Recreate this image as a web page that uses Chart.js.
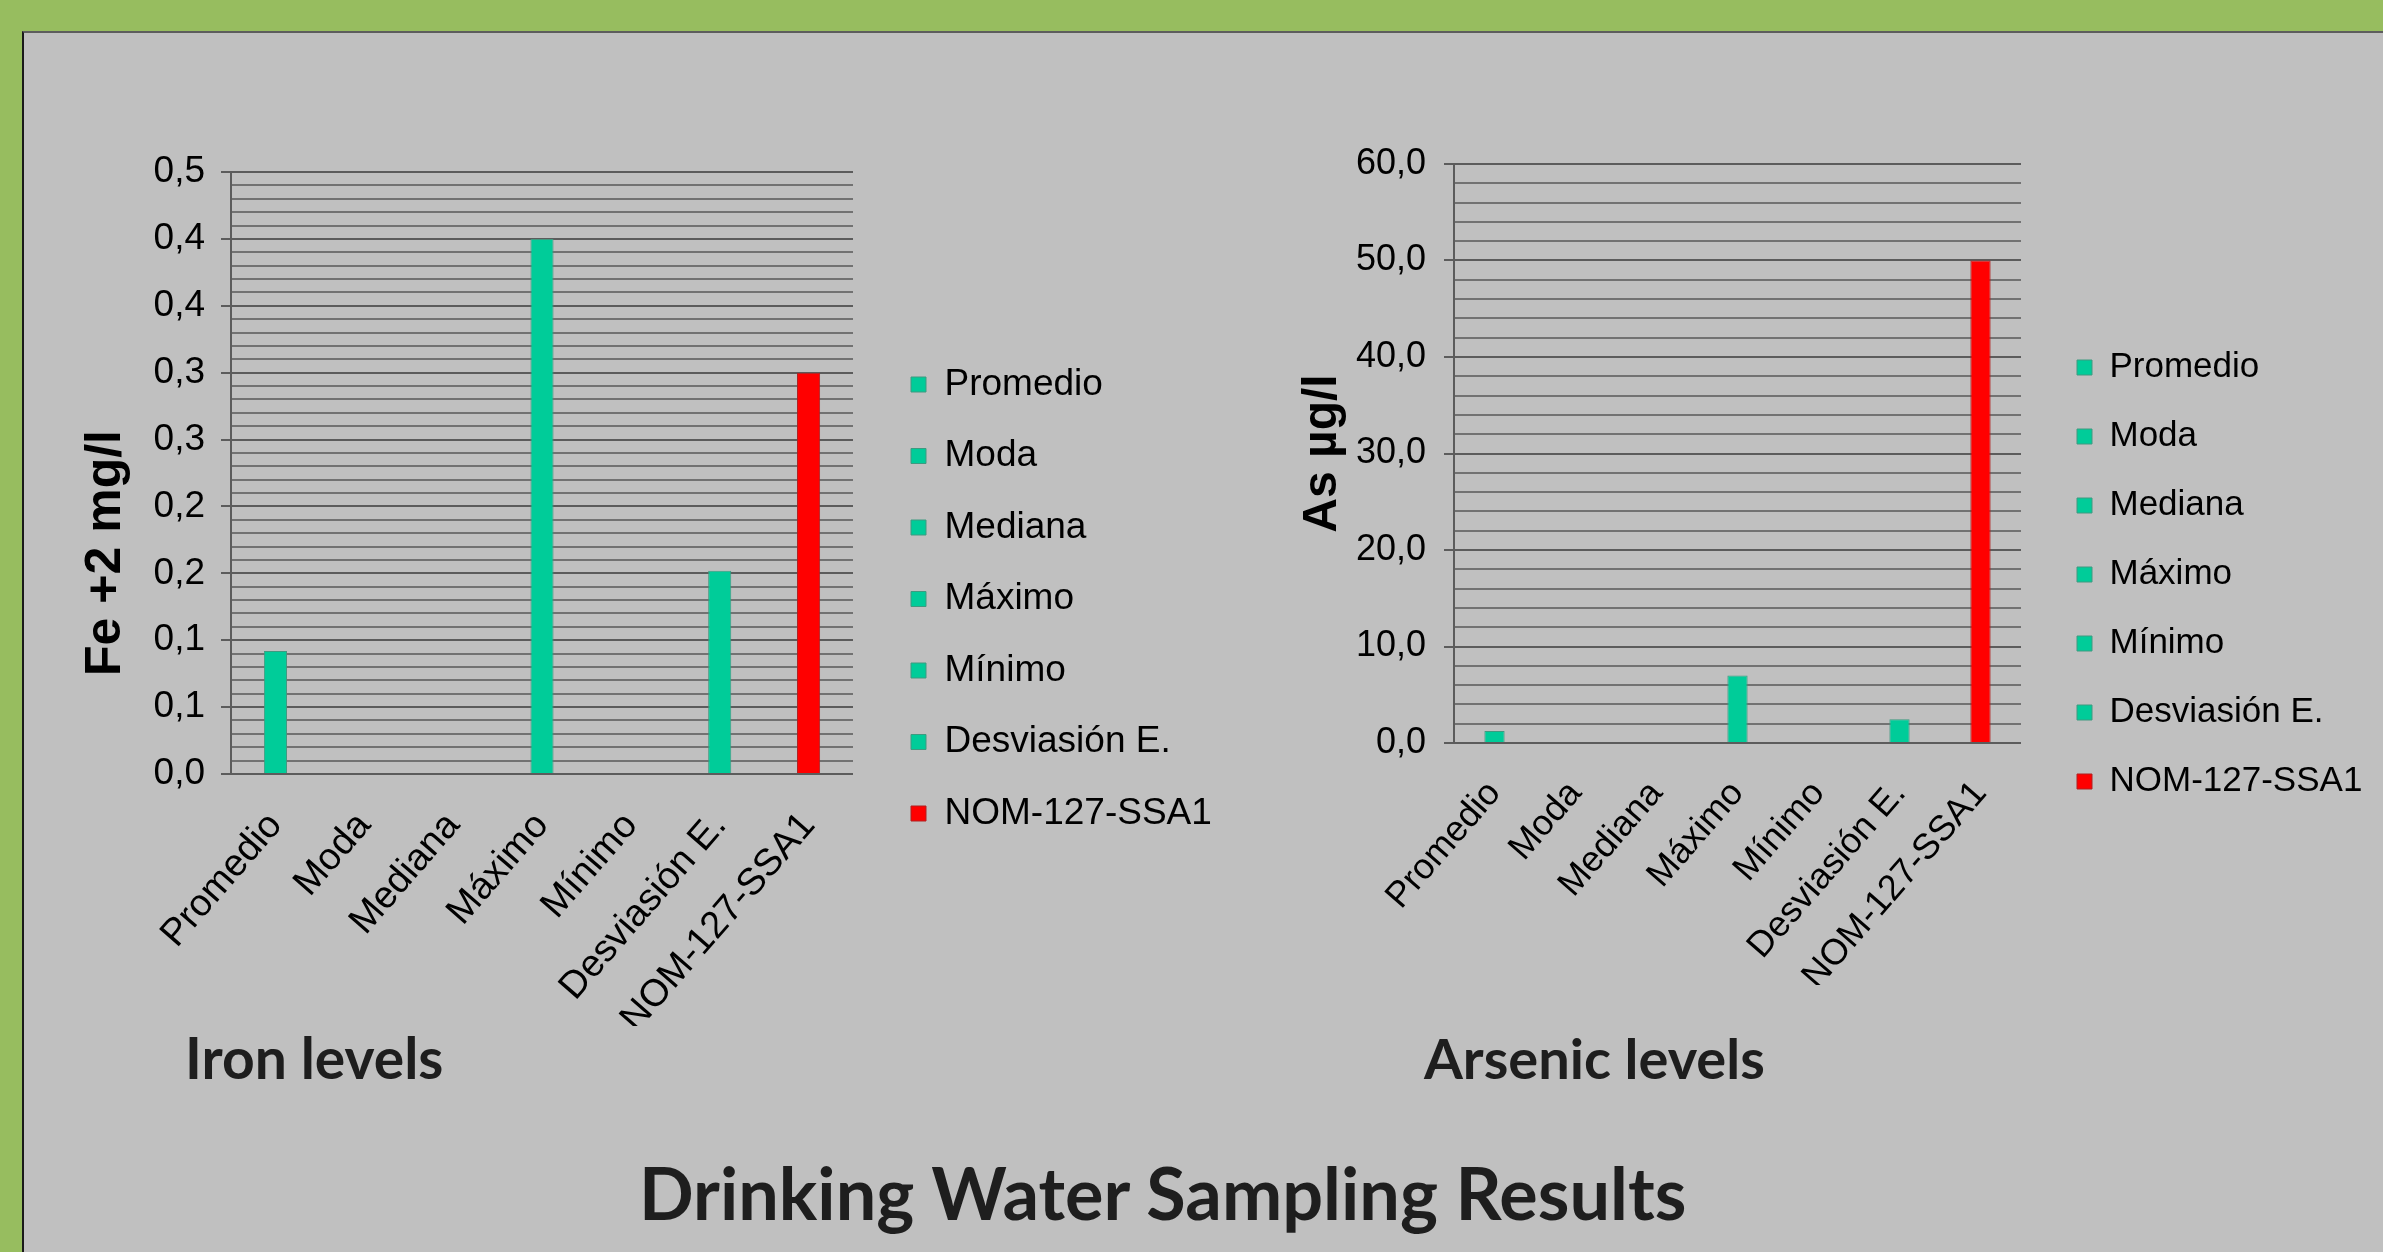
<!DOCTYPE html>
<html>
<head>
<meta charset="utf-8">
<script src="https://cdn.jsdelivr.net/npm/chart.js@4.4.1/dist/chart.umd.min.js"></script>
<style>
html, body { margin: 0; padding: 0; }
body { width: 2383px; height: 1252px; background: #97bd5f; position: relative; overflow: hidden; }
#panel { position: absolute; left: 22px; top: 31px; right: 0; bottom: 0; background: #c0c0c0;
         border-top: 2px solid #5d5d5d; border-left: 2px solid #1a1a1a; }
.wrap { position: absolute; }
#wl { left: 30px; top: 60px; width: 1230px; height: 1000px; }
#wr { left: 1270px; top: 60px; width: 1113px; height: 1000px; }
.lbl { position: absolute; font-family: Lato, 'Open Sans', sans-serif; font-weight: 700; color: #1e1e1e;
       line-height: 1; white-space: nowrap; }
#t1 { left: 185px; top: 1029px; font-size: 57px; }
#t2 { left: 1424px; top: 1030px; font-size: 56px; }
#t3 { left: 639px; top: 1156px; font-size: 72px; }
</style>
</head>
<body>
<div id="panel"></div>
<div class="wrap" id="wl"><canvas id="cl"></canvas></div>
<div class="wrap" id="wr"><canvas id="cr"></canvas></div>
<div class="lbl" id="t1">Iron levels</div>
<div class="lbl" id="t2">Arsenic levels</div>
<div class="lbl" id="t3">Drinking Water Sampling Results</div>
<script>
// ---- data ----
const categories = ['Promedio', 'Moda', 'Mediana', 'Máximo', 'Mínimo', 'Desviasión E.', 'NOM-127-SSA1'];
const ironValues = [0.092, 0, 0, 0.40, 0, 0.152, 0.30];
const arsenicValues = [1.25, 0, 0, 7.0, 0, 2.45, 50.0];
const ironTickLabels = ['0,0', '0,1', '0,1', '0,2', '0,2', '0,3', '0,3', '0,4', '0,4', '0,5'];
const arsenicTickLabels = ['0,0', '10,0', '20,0', '30,0', '40,0', '50,0', '60,0'];
const ironAxisTitle = 'Fe +2 mg/l';
const arsenicAxisTitle = 'As µg/l';

// ---- styles ----
const barColors = ['#00cc99', '#00cc99', '#00cc99', '#00cc99', '#00cc99', '#00cc99', '#ff0000'];
const barBorders = ['#3f9a80', '#3f9a80', '#3f9a80', '#3f9a80', '#3f9a80', '#3f9a80', '#b02020'];
const FONT = "'Liberation Sans', Arial, sans-serif";

const yTitlePlugin = {
  id: 'yTitle',
  afterDraw(chart, args, o) {
    const { ctx, chartArea } = chart;
    ctx.save();
    ctx.translate(chartArea.left - o.dx, (chartArea.top + chartArea.bottom) / 2 + o.dy);
    ctx.rotate(-Math.PI / 2);
    ctx.font = 'bold ' + o.size + 'px ' + FONT;
    ctx.fillStyle = '#000';
    ctx.textAlign = 'center';
    ctx.textBaseline = 'middle';
    ctx.fillText(o.text, 0, 0);
    ctx.restore();
  }
};

// natural width of the legend, so the legend box need not clip its text
function legendWidth(fontSize, pad) {
  const m = document.createElement('canvas').getContext('2d');
  m.font = fontSize + 'px ' + FONT;
  const maxText = Math.max(...categories.map(t => m.measureText(t).width));
  return pad + 15 + fontSize / 2 + maxText + 10;
}

function makeChart(id, W, values, tickLabels, title, c) {
  const legW = legendWidth(c.legFont, c.legPad);
  const padRight = Math.max(0, W - c.areaRight - c.gap - legW);
  return new Chart(document.getElementById(id), {
    type: 'bar',
    data: {
      labels: categories,
      datasets: [{
        data: values,
        backgroundColor: barColors,
        borderColor: barBorders,
        borderWidth: 1,
        barPercentage: c.barPct,
        categoryPercentage: 1
      }]
    },
    plugins: [yTitlePlugin],
    options: {
      responsive: true,
      maintainAspectRatio: false,
      animation: false,
      layout: { padding: { left: 0, top: c.padTop, right: padRight, bottom: c.padBottom } },
      scales: {
        x: {
          grid: { display: false },
          border: { display: false },
          ticks: { autoSkip: false, minRotation: c.rot, maxRotation: c.rot, padding: c.xPad, color: '#000',
                   font: { family: FONT, size: c.xFont } },
          afterFit: s => { s.height = c.xHeight; }
        },
        y: {
          min: 0, max: c.max,
          ticks: {
            stepSize: c.minor, autoSkip: false, padding: c.yPad, color: '#000',
            font: { family: FONT, size: c.yFont },
            callback: (v, i) => (i % c.every === 0 ? tickLabels[i / c.every] : '')
          },
          grid: {
            color: ctx => (ctx.index % c.every === 0 ? '#5c5c5c' : '#727272'),
            lineWidth: 2,
            tickLength: 10,
            tickWidth: 2,
            tickColor: ctx => (ctx.index % c.every === 0 ? '#5c5c5c' : 'rgba(0,0,0,0)')
          },
          border: { display: true, color: '#5c5c5c', width: 2 },
          afterFit: s => { s.width = c.yWidth; }
        },
        gap: {
          position: 'right', display: true,
          grid: { display: false }, border: { display: false }, ticks: { display: false },
          afterFit: s => { s.width = c.gap; }
        }
      },
      plugins: {
        tooltip: { enabled: false },
        yTitle: { text: title, dx: c.tdx, dy: c.tdy, size: c.tSize },
        legend: {
          position: 'right', align: 'center', maxWidth: legW,
          labels: {
            boxWidth: 15, boxHeight: 15, padding: c.legPad, color: '#000',
            font: { family: FONT, size: c.legFont },
            generateLabels: () => categories.map((name, i) => ({
              text: name, fillStyle: barColors[i], strokeStyle: barBorders[i], lineWidth: 1,
              hidden: false, index: i, datasetIndex: 0, fontColor: '#000'
            }))
          }
        }
      }
    }
  });
}

makeChart('cl', 1230, ironValues, ironTickLabels, ironAxisTitle, {
  max: 0.45, minor: 0.01, every: 5, barPct: 0.26, rot: 49,
  padTop: 112, padBottom: 34, yWidth: 201, xHeight: 252, gap: 23.5, areaRight: 823,
  legPad: 34.5, legFont: 37, xFont: 38, yFont: 37, xPad: 22, yPad: 16,
  tdx: 125, tdy: 80, tSize: 50
});

makeChart('cr', 1113, arsenicValues, arsenicTickLabels, arsenicAxisTitle, {
  max: 60, minor: 2, every: 5, barPct: 0.25, rot: 49,
  padTop: 104, padBottom: 75, yWidth: 184, xHeight: 242, gap: 22, areaRight: 751,
  legPad: 34, legFont: 35, xFont: 36, yFont: 36, xPad: 22, yPad: 18,
  tdx: 131, tdy: 0, tSize: 48
});
</script>
</body>
</html>
